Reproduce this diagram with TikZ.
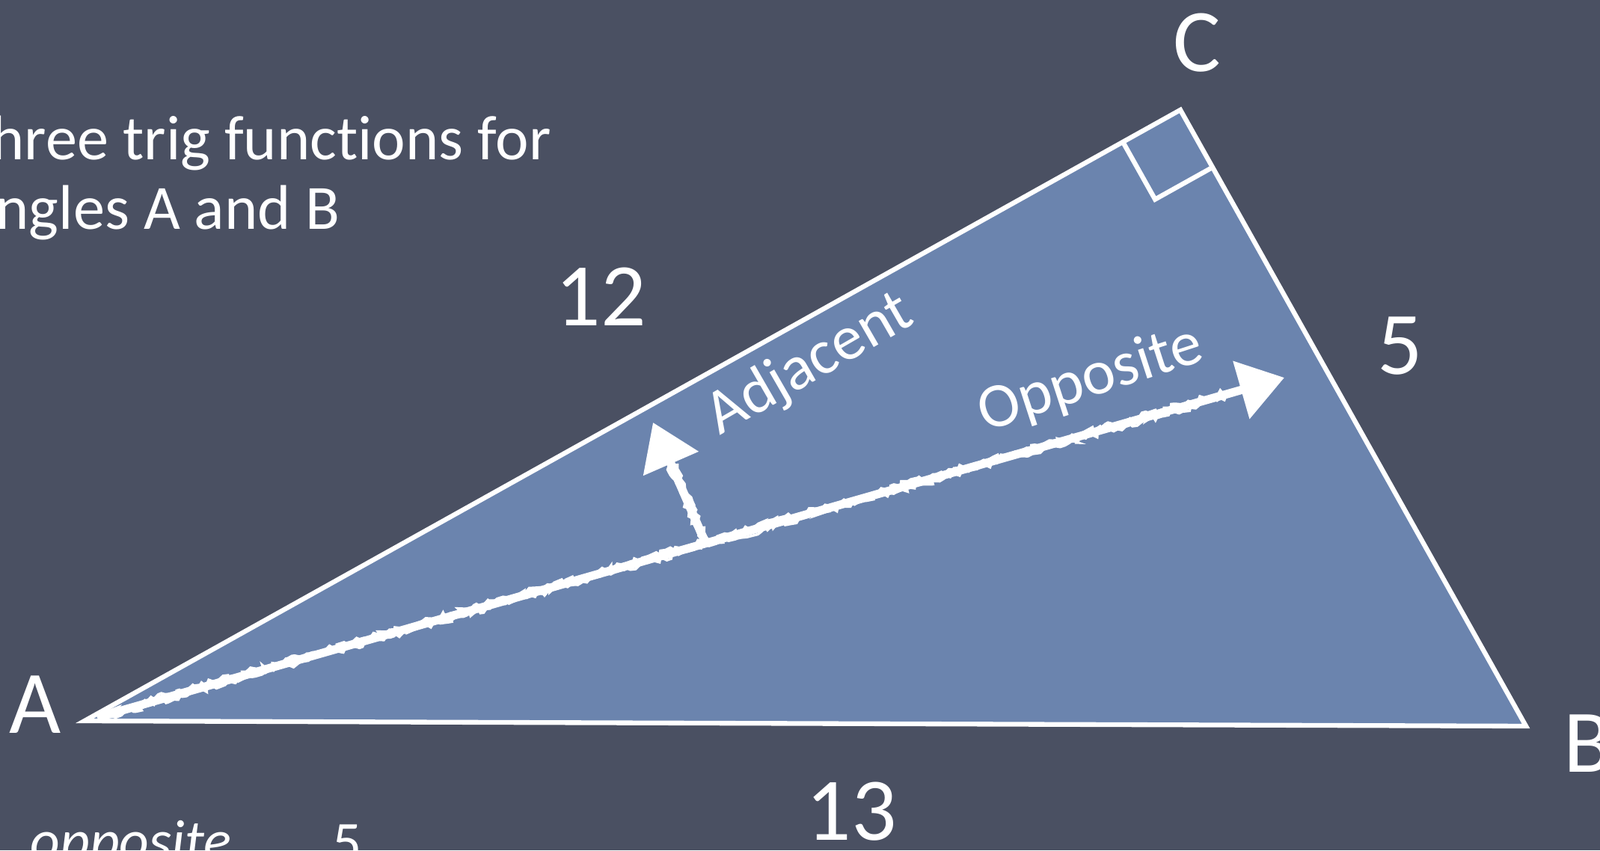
\documentclass[tikz,border=0pt]{standalone}
\usepackage{fontspec}
\setmainfont{Carlito}[Ligatures=NoCommon]
\usetikzlibrary{arrows.meta,calc,decorations.pathmorphing}
\definecolor{slate}{HTML}{4A5062}
\definecolor{panel}{HTML}{6B84AE}

\tikzset{
  vlabel/.style={text=white,inner sep=0pt,font=\fontsize{34}{40}\selectfont},
  note/.style={text=white,inner sep=0pt,anchor=base west,font=\fontsize{24}{29}\selectfont},
  sidetext/.style={text=white,inner sep=0pt,font=\fontsize{24}{29}\selectfont},
  chalk/.style={draw=white,line width=3.2pt,line cap=round,
    -{Triangle[length=0.6cm,width=0.78cm]}},
  chalkdust/.style={draw=white,line width=1pt,decorate,
    decoration={random steps,segment length=1.5pt,amplitude=1.1pt}},
}

\begin{document}
\begin{tikzpicture}[x=1cm,y=1cm]
  \path[use as bounding box] (0,0) rectangle (21.39,11.37);
  \clip (0,0) rectangle (21.39,11.37);
  \fill[slate] (0,0) rectangle (21.39,11.37);

  \coordinate (A) at (1.13,1.73);
  \coordinate (C) at (15.78,9.90);
  \coordinate (B) at (20.40,1.66);

  % Triangle with the right angle at C.
  \filldraw[fill=panel,draw=white,line width=1.8pt,line join=miter]
    (A) -- (C) -- (B) -- cycle;
  \coordinate (ca) at ($(C)!0.88cm!(A)$);
  \coordinate (cb) at ($(C)!0.88cm!(B)$);
  \draw[white,line width=1.8pt] (ca) -- ($(ca)+(cb)-(C)$) -- (cb);

  % Chalk arrows.
  \coordinate (oppstart) at (1.35,1.79);
  \coordinate (opptip) at (17.17,6.32);
  \coordinate (adjfoot) at ($(oppstart)!0.511!(opptip)$);
  \coordinate (adjtip) at (8.73,5.72);
  \draw[chalk] (oppstart) -- (opptip);
  \draw[chalk] (adjfoot) -- (adjtip);
  \draw[chalkdust] ($(oppstart)+(0,0.04)$) -- ($(oppstart)!0.95!(opptip)+(0,0.04)$);
  \draw[chalkdust] ($(oppstart)+(0.1,-0.01)$) -- ($(oppstart)!0.95!(opptip)+(0,-0.04)$);
  \draw[chalkdust] ($(adjfoot)+(0.04,0)$) -- ($(adjfoot)!0.8!(adjtip)+(0.04,0)$);
  \draw[chalkdust] ($(adjfoot)+(-0.04,0)$) -- ($(adjfoot)!0.8!(adjtip)+(-0.04,0)$);

  \node[sidetext,rotate=30] (adjlbl) at (10.83,6.49) {Adjacent};
  \node[sidetext,rotate=18] (opplbl) at (14.58,6.29) {Opposite};

  % Vertex and side labels.
  \node[vlabel] (lblA) at (0.47,1.95) {A};
  \node[vlabel,anchor=west] (lblB) at (20.90,1.43) {B};
  \node[vlabel] (lblC) at (16.00,10.80) {C};
  \node[vlabel] (side12) at (8.03,7.40) {12};
  \node[vlabel] (side5) at (18.72,6.74) {5};
  \node[vlabel] (side13) at (11.38,0.52) {13};

  % Task text, cut by the frame.
  \node[note] (task1) at (-0.12,9.23) {hree trig functions for};
  \node[note] (task2) at (-0.06,8.30) {ngles A and B};
  \node[note,font=\fontsize{22}{26}\selectfont\itshape] (num1) at (0.40,-0.13) {opposite};
  \node[note,font=\fontsize{22}{26}\selectfont] (num2) at (4.44,-0.15) {5};
\end{tikzpicture}
\end{document}
